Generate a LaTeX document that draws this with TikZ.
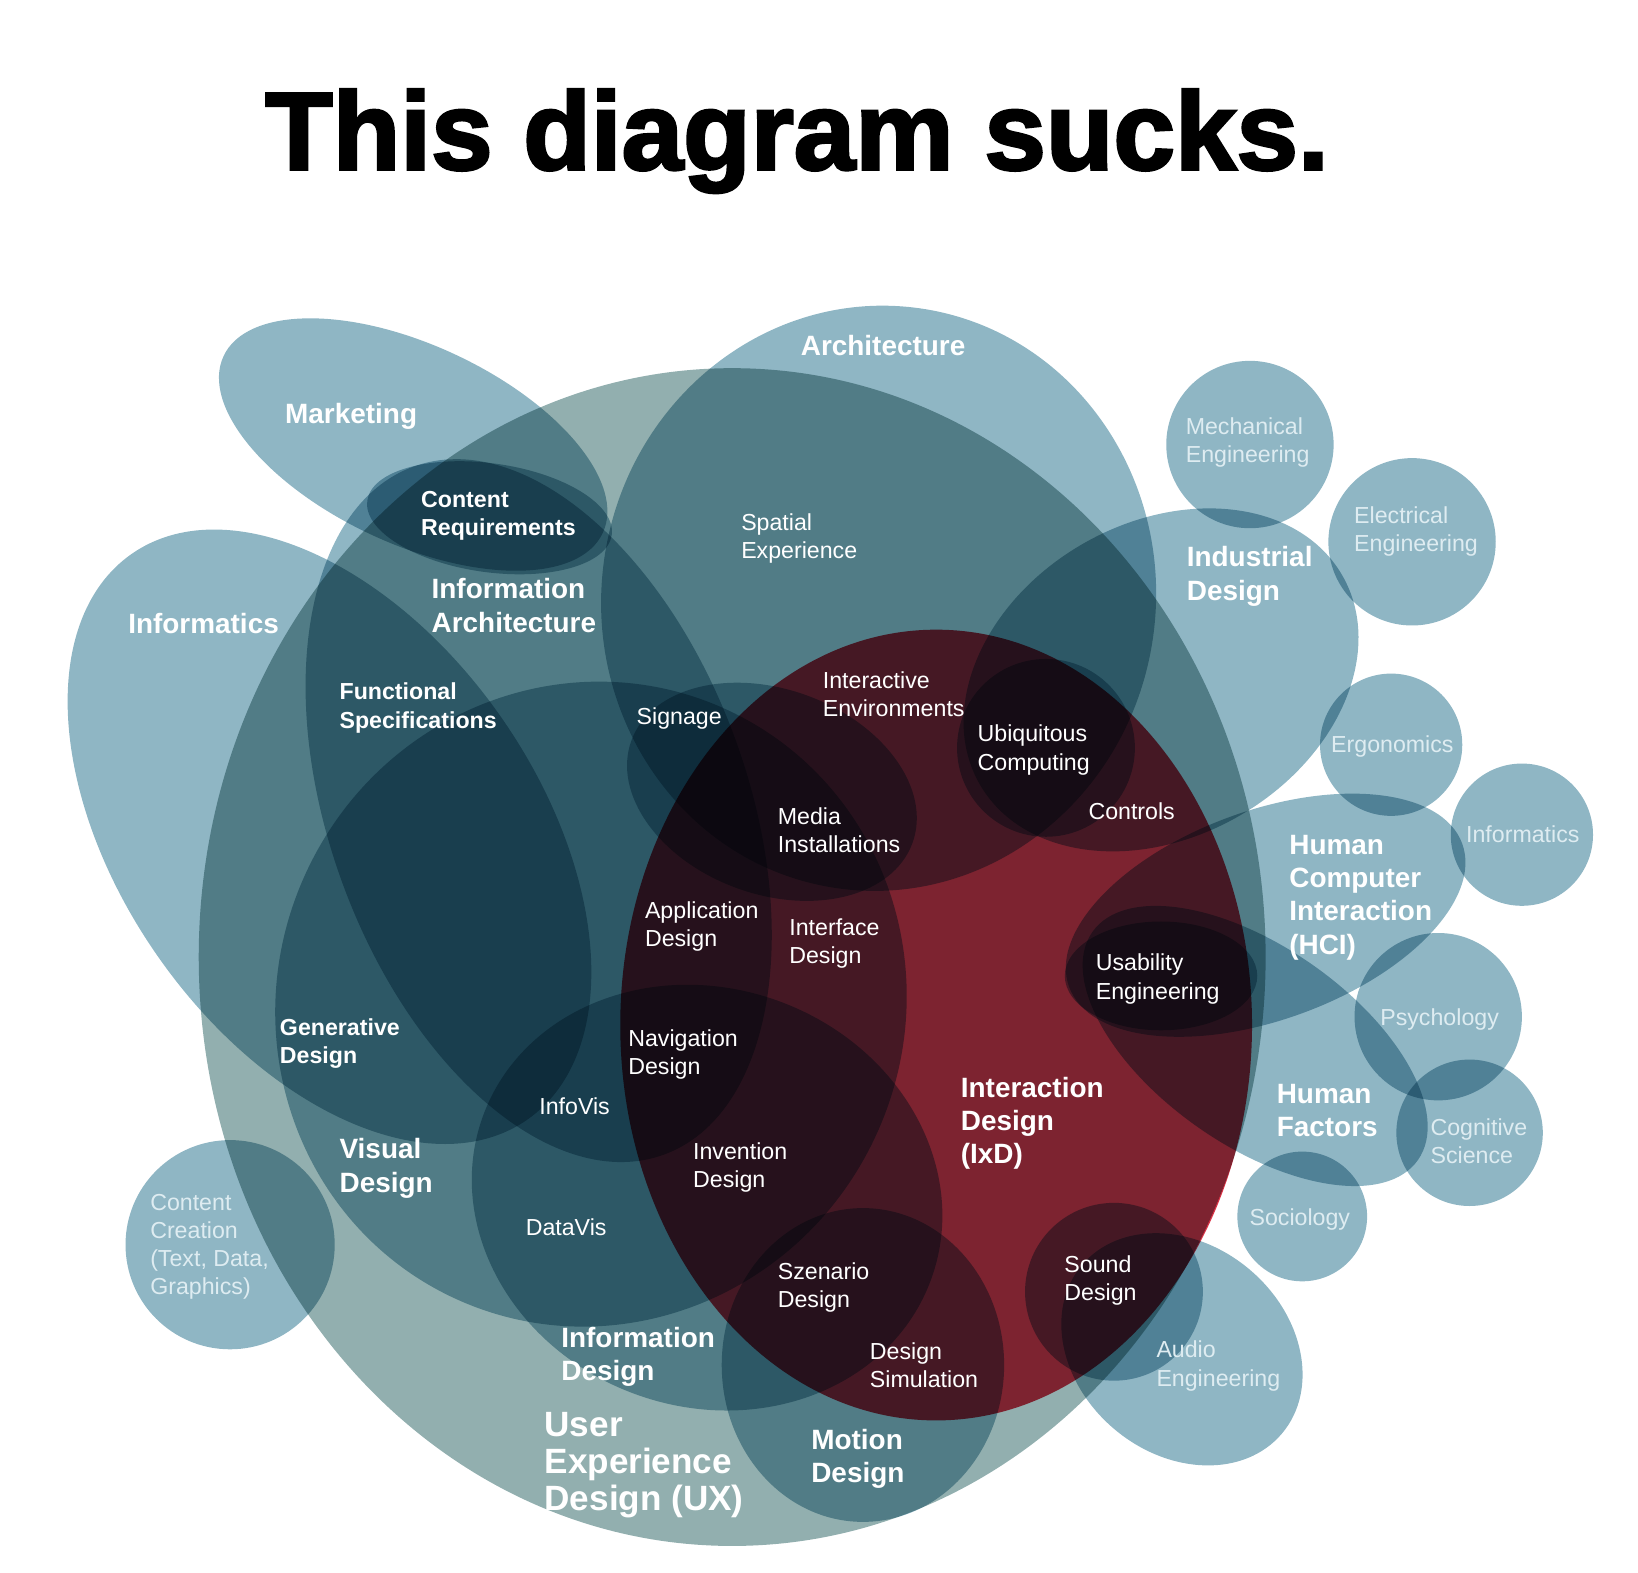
\documentclass[tikz,border=0pt]{standalone}
\usepackage{fontspec}
\setmainfont{Liberation Sans}
\newfontfamily\titlefont{Liberation Sans Bold}[FakeBold=2.5]
\usetikzlibrary{positioning}

\definecolor{blobc}{RGB}{143,182,196}
\definecolor{uxc}{RGB}{146,175,175}
\definecolor{ixdc}{RGB}{219,51,70}
\definecolor{pale}{RGB}{222,236,241}

\tikzset{
	blob/.style={fill=blobc, blend mode=multiply},
	uxblob/.style={fill=uxc, blend mode=multiply},
	ixdblob/.style={fill=ixdc, blend mode=multiply},
	big/.style={text=white, anchor=west, inner sep=0, align=left,
		font=\bfseries\fontsize{7.95pt}{9.5pt}\selectfont},
	mid/.style={text=white, anchor=west, inner sep=0, align=left,
		font=\bfseries\fontsize{6.6pt}{8.05pt}\selectfont},
	small/.style={text=white, anchor=west, inner sep=0, align=left,
		font=\fontsize{6.6pt}{8.05pt}\selectfont},
	faint/.style={small, text=pale},
}

\begin{document}
\begin{tikzpicture}[x=0.01046cm, y=-0.01046cm]
	\useasboundingbox (0, 0) rectangle (1566, 1503);

	\node[font=\titlefont\fontsize{31.5pt}{34pt}\selectfont] (title) at (762, 135) {This diagram sucks.};

	% user experience
	\fill[uxblob] (700, 915) ellipse [x radius=510, y radius=563];

	% outer fields
	\fill[blob, rotate around={-25:(395, 425)}] (395, 425) ellipse [x radius=200, y radius=95];
	\fill[blob, rotate around={-8:(840, 572)}] (840, 572) ellipse [x radius=265, y radius=280];
	\fill[blob, rotate around={-55:(315, 800)}] (315, 800) ellipse [x radius=330, y radius=200];
	\fill[blob, rotate around={20:(515, 775)}] (515, 775) ellipse [x radius=200, y radius=350];
	\fill[blob, rotate around={-8:(468, 495)}] (468, 495) ellipse [x radius=118, y radius=52];
	\fill[blob, rotate around={-25:(565, 960)}] (565, 960) ellipse [x radius=300, y radius=310];
	\fill[blob, rotate around={-20:(676, 1145)}] (676, 1145) ellipse [x radius=228, y radius=200];
	\fill[blob, rotate around={-20:(738, 757)}] (738, 757) ellipse [x radius=143, y radius=98];
	\fill[blob] (1000, 715) circle (85);
	\fill[blob, rotate around={30:(1110, 650)}] (1110, 650) ellipse [x radius=200, y radius=150];
	\fill[blob, rotate around={20:(1210, 875)}] (1210, 875) ellipse [x radius=200, y radius=100];
	\fill[blob] (1110, 933) ellipse [x radius=92, y radius=52];
	\fill[blob, rotate around={-35:(1200, 1000)}] (1200, 1000) ellipse [x radius=190, y radius=95];
	\fill[blob] (1065, 1235) circle (85);
	\fill[blob, rotate around={-40:(1130, 1290)}] (1130, 1290) ellipse [x radius=125, y radius=100];
	\fill[blob] (825, 1305) ellipse [x radius=135, y radius=150];
	\fill[blob] (220, 1190) circle (100);

	% bubbles on the right
	\foreach \cx/\cy/\r in {1195/425/80, 1350/518/80, 1330/712/68, 1455/798/68,
		1375/972/80, 1405/1083/70, 1245/1163/62} {
		\fill[blob] (\cx, \cy) circle (\r);
	}

	% interaction design
	\fill[ixdblob] (895, 980) ellipse [x radius=302, y radius=378];

	% labels
	\node[big] (arch) at (765, 330) {Architecture};
	\node[big] (mark) at (272, 398) {Marketing};
	\node[big] (infl) at (122, 596) {Informatics};
	\node[big] (ia) at (412, 579) {Information\\Architecture};
	\node[big] (ind) at (1134, 551) {Industrial\\Design};
	\node[big] (hci) at (1232, 858) {Human\\Computer\\Interaction\\(HCI)};
	\node[big] (hf) at (1220, 1062) {Human\\Factors};
	\node[big] (ixd) at (918, 1074) {Interaction\\Design\\(IxD)};
	\node[big] (vd) at (324, 1117) {Visual\\Design};
	\node[big] (infd) at (536, 1297) {Information\\Design};
	\node[big] (md) at (775, 1395) {Motion\\Design};
	\node[big, font=\bfseries\fontsize{10pt}{10.5pt}\selectfont] (ux) at (520, 1401) {User\\Experience\\Design (UX)};

	\node[mid] (cr) at (402, 493) {Content\\Requirements};
	\node[mid] (fs) at (324, 677) {Functional\\Specifications};
	\node[mid] (gd) at (267, 998) {Generative\\Design};

	\node[small] (se) at (708, 515) {Spatial\\Experience};
	\node[small] (sig) at (608, 687) {Signage};
	\node[small] (ie) at (786, 664) {Interactive\\Environments};
	\node[small] (uc) at (934, 717) {Ubiquitous\\Computing};
	\node[small] (ctl) at (1040, 776) {Controls};
	\node[small] (mi) at (743, 794) {Media\\Installations};
	\node[small] (ad) at (616, 886) {Application\\Design};
	\node[small] (ifd) at (754, 902) {Interface\\Design};
	\node[small] (ue) at (1047, 936) {Usability\\Engineering};
	\node[small] (nd) at (600, 1008) {Navigation\\Design};
	\node[small] (iv) at (515, 1058) {InfoVis};
	\node[small] (invd) at (662, 1116) {Invention\\Design};
	\node[small] (dv) at (502, 1173) {DataVis};
	\node[small] (sd) at (743, 1231) {Szenario\\Design};
	\node[small] (ds) at (831, 1305) {Design\\Simulation};
	\node[small] (snd) at (1017, 1224) {Sound\\Design};

	\node[faint] (me) at (1133, 423) {Mechanical\\Engineering};
	\node[faint] (ee) at (1294, 508) {Electrical\\Engineering};
	\node[faint] (erg) at (1272, 714) {Ergonomics};
	\node[faint] (infr) at (1401, 798) {Informatics};
	\node[faint] (psy) at (1319, 975) {Psychology};
	\node[faint] (cs) at (1367, 1091) {Cognitive\\Science};
	\node[faint] (soc) at (1194, 1166) {Sociology};
	\node[faint] (ae) at (1105, 1306) {Audio\\Engineering};
	\node[faint] (cc) at (143, 1192) {Content\\Creation\\(Text, Data,\\Graphics)};
\end{tikzpicture}
\end{document}
